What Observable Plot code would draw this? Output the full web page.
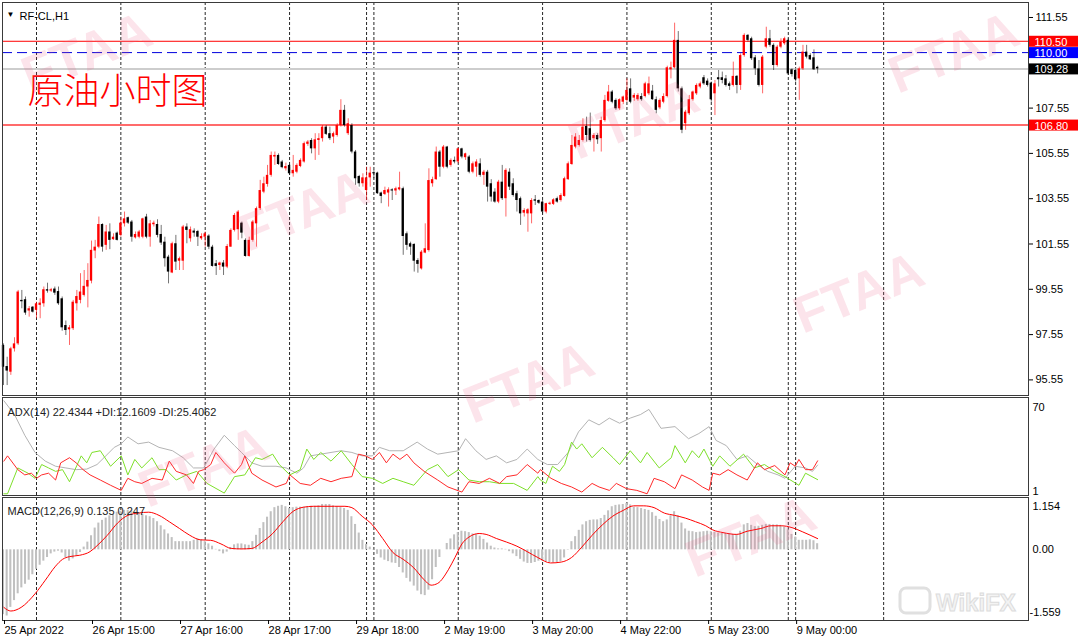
<!DOCTYPE html>
<html>
<head>
<meta charset="utf-8">
<script src="https://cdn.jsdelivr.net/npm/d3@7"></script>
<script src="https://cdn.jsdelivr.net/npm/@observablehq/plot@0.6"></script>
<style>
  html,body{margin:0;padding:0;background:#fff;}
  #chart{position:relative;width:1080px;height:638px;overflow:hidden;background:#fff;}
  #chart .panel{position:absolute;left:0;}
</style>
</head>
<body>
<div id="chart"></div>
<script>
// ---------------- DATA ----------------
const chartTitle = "RF-CL,H1";
const chartNote = "原油小时图";
const adxTitle = "ADX(14) 22.4344 +DI:12.1609 -DI:25.4062";
const macdTitle = "MACD(12,26,9) 0.135 0.247";

// hourly candles [open, high, low, close]
const candleOHLC = [
[97.07,97.14,95.30,96.11],[96.14,96.55,95.30,95.94],[95.89,96.99,95.75,96.92],[96.92,97.41,96.78,97.14],[97.14,99.50,97.07,99.43],
[99.06,99.50,98.69,99.00],[99.09,99.21,98.40,98.50],[98.59,98.79,98.32,98.69],[98.76,98.79,98.50,98.54],[98.62,98.98,98.25,98.91],
[98.84,99.13,98.25,98.94],[98.91,99.65,98.76,99.53],[99.53,99.82,99.38,99.47],[99.47,99.59,99.41,99.53],[99.56,99.65,99.28,99.38],
[99.45,99.65,98.84,98.91],[99.13,99.21,97.70,97.85],[97.95,98.15,97.51,97.73],[97.76,97.95,97.07,97.85],[97.81,99.06,97.73,98.98],
[98.91,99.50,98.59,99.23],[99.06,100.24,98.91,99.43],[99.28,100.38,99.21,99.68],[99.65,100.68,98.73,99.94],[99.91,101.68,99.79,101.27],
[101.24,101.71,100.90,101.41],[101.41,102.74,101.34,102.41],[102.41,102.44,101.19,101.41],[101.49,102.37,101.27,102.08],[102.08,102.44,101.30,101.71],
[101.74,102.00,101.71,101.85],[102.03,102.08,101.68,101.71],[101.93,102.74,101.85,102.47],[102.44,102.96,102.30,102.66],[102.71,102.74,102.41,102.47],
[102.52,102.59,101.63,101.85],[101.82,102.08,101.77,101.97],[101.85,102.15,101.78,102.08],[101.85,102.69,101.78,102.66],[102.74,102.86,101.78,101.85],
[101.85,102.59,101.41,102.44],[102.40,102.56,102.30,102.47],[102.41,102.62,101.82,101.93],[101.97,102.37,101.49,101.59],[101.63,101.85,100.53,100.90],
[100.97,101.05,99.79,100.31],[100.27,101.63,100.24,101.56],[101.56,101.93,100.38,100.75],[100.79,100.97,100.38,100.90],[100.79,102.37,100.38,102.30],
[102.30,102.44,101.56,102.15],[101.78,102.30,101.63,102.18],[102.12,102.22,101.85,102.03],[102.10,102.15,101.44,101.85],[101.78,102.00,101.71,101.88],
[101.85,102.08,101.41,102.00],[101.90,101.96,101.30,101.41],[101.41,101.49,100.53,100.56],[100.68,100.82,100.16,100.56],[100.60,100.75,100.38,100.71],
[100.71,100.82,100.16,100.53],[100.53,101.53,100.46,101.44],[101.41,102.22,101.41,102.15],[102.15,102.89,102.08,102.81],[102.18,103.03,101.71,102.96],
[102.47,102.52,101.78,102.03],[101.71,101.78,100.97,101.00],[101.00,101.85,100.97,101.71],[101.71,102.59,101.63,102.52],[102.44,103.18,101.41,103.11],
[103.11,104.36,103.03,103.91],[103.84,104.50,103.77,104.21],[104.18,105.02,104.06,104.58],[104.58,105.61,104.50,105.46],[105.39,105.61,105.02,105.46],
[105.46,105.53,105.02,105.06],[105.17,105.24,104.87,104.92],[104.87,105.12,104.77,104.97],[105.02,105.06,104.58,104.65],[104.65,105.46,104.50,104.80],
[104.72,105.09,104.65,105.02],[104.97,105.31,104.92,105.24],[105.17,106.05,105.12,105.98],[105.95,106.12,105.86,106.05],[106.12,106.20,105.53,105.75],
[105.75,106.42,105.24,106.15],[106.12,106.42,105.46,106.20],[106.20,106.78,106.05,106.71],[106.71,106.78,106.34,106.39],[106.42,106.71,106.12,106.20],
[106.27,106.49,105.98,106.42],[106.34,106.86,106.27,106.78],[106.78,107.92,106.71,107.45],[107.45,107.67,106.71,106.78],[106.42,107.08,106.34,106.86],
[106.78,106.86,105.53,105.61],[105.61,105.68,104.14,104.43],[104.53,104.58,104.06,104.21],[104.21,104.65,104.06,104.47],[103.91,104.94,103.47,104.47],
[104.47,104.94,104.06,104.68],[104.68,104.80,104.43,104.65],[104.68,104.72,103.74,103.77],[103.80,103.84,103.33,103.65],[103.74,104.06,103.69,103.91],
[103.80,104.03,103.18,103.94],[103.94,103.99,103.47,103.89],[103.89,104.06,103.69,103.99],[103.94,104.72,103.89,104.03],[103.99,104.06,101.05,101.88],
[102.00,102.08,101.27,101.49],[101.56,101.63,101.05,101.41],[101.53,101.56,100.31,100.79],[100.82,100.90,100.26,100.65],[100.45,101.26,100.40,101.19],
[101.15,102.44,101.12,101.34],[101.26,104.87,101.19,104.35],[104.21,104.50,104.06,104.39],[104.39,105.83,104.36,105.61],[105.61,105.68,104.50,104.94],
[104.94,105.90,104.87,105.83],[105.83,105.86,104.87,104.94],[105.02,105.31,104.94,105.24],[105.24,105.39,105.09,105.17],[105.17,105.78,105.09,105.75],
[105.75,105.78,105.31,105.39],[105.36,105.56,105.24,105.53],[105.39,105.46,104.65,104.72],[104.72,105.17,104.65,105.09],[104.94,105.27,104.50,105.17],
[105.09,105.31,104.50,104.58],[104.58,104.80,104.14,104.72],[104.72,104.80,103.40,104.06],[104.21,104.39,103.40,103.62],[103.84,103.99,103.35,103.40],
[103.40,104.36,103.33,104.28],[104.28,105.02,103.47,103.55],[103.55,104.87,102.74,104.80],[104.72,104.87,103.91,104.06],[104.21,104.43,103.62,103.69],
[103.77,103.88,102.96,103.47],[103.55,103.62,102.37,102.88],[102.91,103.11,102.74,103.03],[102.88,103.11,102.07,103.06],[102.88,103.55,102.44,103.47],
[103.50,103.69,103.25,103.44],[103.47,103.50,103.30,103.35],[103.40,103.47,102.88,102.96],[102.96,103.35,102.88,103.33],[103.30,103.40,103.25,103.35],
[103.30,103.55,103.25,103.50],[103.55,103.62,103.35,103.40],[103.47,103.77,103.40,103.69],[103.65,104.50,103.62,104.43],[104.39,105.17,104.36,105.09],
[105.06,106.34,105.02,105.90],[105.83,106.42,105.75,106.27],[105.90,106.34,105.83,106.12],[106.12,107.08,106.05,106.71],[106.74,107.15,106.05,106.34],
[106.64,107.33,106.05,106.12],[106.20,106.42,105.61,106.34],[106.34,106.42,105.95,106.15],[106.20,107.15,105.61,107.00],[107.00,108.11,106.93,107.89],
[107.85,108.55,107.81,108.26],[108.26,108.33,107.74,107.81],[107.89,107.96,107.45,107.52],[107.52,107.96,107.45,107.92],[107.81,108.08,107.70,108.04],
[107.89,108.84,107.81,108.33],[108.40,108.84,107.74,107.81],[107.99,108.19,107.85,108.11],[107.92,108.19,107.85,108.11],[108.06,108.19,107.85,107.92],
[108.06,108.69,108.00,108.62],[108.18,108.92,108.10,108.62],[108.30,108.55,107.89,107.92],[107.92,108.04,107.30,107.45],[107.56,107.96,107.48,107.89],
[107.81,108.18,107.74,108.06],[108.06,109.40,108.00,109.33],[109.24,109.58,108.84,109.33],[109.33,111.30,109.28,110.54],[110.54,110.93,108.26,108.40],
[108.40,108.48,106.42,106.57],[106.86,107.45,106.57,107.37],[107.30,108.11,107.22,107.92],[107.92,108.30,107.85,108.26],[108.18,108.62,108.11,108.55],
[108.48,108.70,108.40,108.62],[108.89,108.99,108.55,108.62],[108.74,108.84,108.48,108.55],[108.65,108.70,107.81,107.92],[108.18,108.77,107.22,108.62],
[108.89,109.21,108.48,108.80],[108.89,109.14,108.62,108.77],[108.84,108.99,108.48,108.55],[108.62,108.70,108.33,108.51],[108.55,109.58,108.48,108.95],
[108.95,108.99,108.18,108.55],[108.55,109.95,108.33,109.87],[109.87,110.83,109.80,110.76],[110.76,110.80,110.47,110.54],[110.61,110.68,109.65,109.73],
[109.77,109.87,108.99,109.28],[109.28,109.65,108.48,108.55],[108.55,109.87,108.18,109.80],[110.24,111.12,110.17,110.61],[110.61,110.98,110.24,110.32],
[110.32,110.39,109.21,109.43],[109.43,110.32,109.36,110.24],[110.24,110.61,110.17,110.46],[110.39,110.68,110.32,110.61],[110.54,110.61,108.99,109.06],
[109.24,109.28,108.92,109.03],[109.21,109.28,108.70,108.80],[108.84,109.36,107.89,109.28],[109.28,110.32,109.21,110.02],[110.02,110.32,109.72,109.80],
[109.87,109.95,109.65,109.68],[109.77,110.12,109.21,109.24],[109.35,109.40,109.06,109.28]
];

// price axis ticks (109.55 is hidden behind the level boxes) and horizontal levels
const priceTicks = [95.55, 97.55, 99.55, 101.55, 103.55, 105.55, 107.55, 111.55];
const levelPrices = [110.50, 110.00, 109.28, 106.80];
const levelLabels = ["110.50", "110.00", "109.28", "106.80"];

// time axis (bar index of each label) and day separators (bar index)
const tickBars = [0, 24, 48, 72, 96, 120, 144, 168, 192, 216];
const tickLabels = ["25 Apr 2022", "26 Apr 15:00", "27 Apr 16:00", "28 Apr 17:00", "29 Apr 18:00",
                    "2 May 19:00", "3 May 20:00", "4 May 22:00", "5 May 23:00", "9 May 00:00"];
const separatorBars = [9, 32, 55, 78, 99, 101, 124, 147, 170, 193, 214, 216, 240];

// ADX(14): [bar, value]
const adxLine = [[0.1,67.7],[3.0,58.0],[5.8,43.4],[8.6,31.3],[11.4,25.2],[14.2,21.6],[17.0,20.4],[19.8,19.2],[22.7,19.6],[25.5,22.8],[27.4,27.6],[30.2,34.9],[32.1,37.4],[33.9,42.2],[36.7,37.4],[39.6,38.6],[42.4,34.9],[46.1,32.5],[49.0,27.6],[51.8,20.4],[54.6,20.4],[57.4,33.7],[60.2,43.4],[63.0,36.1],[64.9,31.3],[67.7,24.0],[70.5,21.6],[74.3,21.6],[77.1,20.4],[80.0,16.7],[81.8,20.4],[83.7,28.9],[86.5,30.1],[89.3,31.3],[92.1,32.5],[95.0,31.3],[97.8,28.9],[100.6,28.9],[102.5,34.9],[105.3,32.5],[109.0,32.5],[112.8,38.6],[115.6,33.7],[118.4,30.1],[121.2,31.3],[124.1,32.5],[126.0,41.0],[128.8,32.5],[131.6,26.4],[134.4,28.9],[137.2,24.0],[140.0,26.4],[142.8,33.7],[145.7,26.4],[148.3,22.8],[151.1,22.8],[154.0,31.3],[156.8,45.8],[159.6,54.3],[162.4,50.7],[165.2,55.5],[168.0,51.9],[170.9,55.5],[173.7,58.0],[176.0,61.6],[179.3,48.3],[183.1,49.5],[186.8,41.0],[189.6,44.6],[192.4,49.5],[194.3,39.8],[197.1,36.1],[200.0,26.4],[202.8,28.9],[205.6,22.8],[208.4,18.0],[211.2,15.5],[213.1,13.1],[215.9,21.6],[218.7,20.4],[220.6,18.0],[222,22.43]];
const plusDI = [[0.1,2.2],[1.1,2.2],[3.9,20.4],[6.7,16.7],[8.6,13.1],[10.4,22.8],[12.3,20.4],[14.2,18.0],[16.1,19.2],[18.0,10.7],[21.2,28.9],[22.7,24.0],[24.1,31.3],[26.4,32.5],[29.2,21.6],[32.1,28.9],[33.9,15.5],[35.8,26.4],[37.7,20.4],[40.5,27.6],[42.4,19.2],[44.3,19.2],[47.1,11.9],[49.9,15.5],[52.7,18.0],[55.5,9.5],[60.2,2.7],[63.0,14.3],[65.8,15.5],[68.7,27.6],[70.5,26.4],[73.4,30.1],[75.2,22.8],[78.1,15.5],[80.9,19.2],[82.7,33.7],[84.6,26.4],[86.5,31.3],[89.3,25.2],[92.1,32.5],[95.0,22.8],[97.8,14.3],[100.6,13.1],[103.4,9.5],[106.2,13.1],[109.0,10.7],[111.9,8.2],[115.6,19.2],[118.4,22.8],[121.2,14.3],[124.1,19.2],[126.9,11.9],[129.7,10.7],[132.5,10.7],[135.3,9.5],[139.1,9.5],[142.8,4.6],[145.7,14.3],[146.4,11.9],[147.9,9.5],[149.7,21.6],[151.6,18.0],[153.0,22.8],[154.9,38.6],[156.3,33.7],[157.7,37.4],[160.5,27.6],[163.3,34.9],[166.2,27.6],[168.0,22.8],[170.9,32.5],[173.7,24.0],[175.5,31.3],[178.8,20.4],[182.1,27.6],[183.1,36.1],[185.9,24.0],[187.8,32.5],[189.6,27.6],[191.0,33.7],[193.4,21.6],[195.3,28.9],[198.1,21.6],[201.8,30.1],[204.7,20.4],[207.5,22.8],[210.3,18.0],[213.1,14.3],[216.9,8.2],[218.7,16.7],[222,12.16]];
const minusDI = [[0.1,25.2],[1.1,28.9],[3.9,19.2],[5.8,15.5],[7.6,16.7],[9.0,13.1],[10.4,15.5],[12.3,16.7],[14.2,11.9],[15.6,24.0],[18.0,27.6],[19.8,24.0],[21.7,19.2],[23.6,15.5],[26.4,11.9],[29.2,8.2],[32.1,4.6],[33.9,13.1],[35.8,10.7],[37.7,9.5],[40.5,13.1],[43.3,11.9],[45.2,25.2],[47.1,18.0],[49.9,15.5],[51.8,9.5],[53.2,18.0],[54.6,19.2],[56.5,22.8],[57.9,31.3],[60.2,24.0],[63.0,16.7],[64.9,22.8],[65.8,28.9],[67.7,16.7],[70.5,11.9],[74.3,7.0],[77.1,9.5],[78.1,15.5],[80.9,9.5],[83.7,8.2],[86.5,13.1],[89.3,10.7],[92.1,13.1],[95.0,14.3],[96.8,30.1],[98.7,28.9],[100.6,26.4],[102.5,31.3],[104.4,24.0],[106.2,30.1],[108.1,26.4],[110.0,30.1],[111.9,24.0],[114.7,18.0],[118.4,11.9],[121.2,7.0],[125.0,3.4],[126.9,10.7],[129.7,9.5],[132.5,13.1],[135.3,9.5],[137.2,14.3],[140.0,15.5],[142.8,22.8],[145.7,16.7],[146.4,19.2],[149.3,13.1],[152.1,9.5],[154.9,7.0],[157.7,3.4],[160.5,9.5],[162.4,7.0],[165.2,4.6],[167.1,9.5],[169.9,5.8],[172.7,4.6],[175.5,2.2],[177.4,13.1],[180.2,10.7],[183.1,5.8],[184.9,15.5],[187.8,11.9],[190.6,7.0],[192.4,4.6],[193.4,16.7],[195.3,15.5],[197.6,19.2],[200.0,15.5],[202.8,11.9],[205.6,24.0],[207.5,19.2],[210.3,22.1],[213.1,15.5],[214.5,24.0],[215.9,21.6],[216.9,26.4],[218.7,19.2],[220.6,19.2],[222,25.41]];

// MACD(12,26,9): main line per bar (histogram) and signal line [bar, value]
const macdMain = [
-1.43,-1.46,-1.27,-1.12,-0.97,-0.84,-0.76,-0.67,-0.55,-0.43,
-0.34,-0.25,-0.17,-0.09,-0.05,-0.03,-0.07,-0.17,-0.25,-0.20,
-0.13,-0.06,0.06,0.17,0.31,0.48,0.59,0.65,0.70,0.75,
0.78,0.83,0.85,0.87,0.87,0.85,0.83,0.81,0.78,0.75,
0.73,0.69,0.62,0.53,0.44,0.35,0.27,0.18,0.18,0.18,
0.18,0.18,0.21,0.24,0.22,0.18,0.13,0.08,0.01,-0.04,
-0.09,-0.05,0.05,0.11,0.13,0.13,0.11,0.10,0.18,0.32,
0.47,0.60,0.72,0.84,0.93,0.96,0.98,0.95,0.91,0.93,
0.94,0.94,0.94,0.95,0.96,0.96,0.97,1.00,1.00,1.00,
0.97,0.95,0.93,0.91,0.87,0.73,0.56,0.37,0.21,0.12,
0.06,-0.01,-0.10,-0.18,-0.23,-0.26,-0.29,-0.30,-0.39,-0.51,
-0.63,-0.71,-0.80,-0.91,-0.99,-1.01,-0.89,-0.66,-0.39,-0.17,
0.00,0.14,0.24,0.33,0.38,0.41,0.40,0.38,0.35,0.34,
0.30,0.23,0.15,0.08,0.04,0.02,0.02,0.01,-0.04,-0.09,
-0.15,-0.21,-0.27,-0.30,-0.30,-0.28,-0.25,-0.25,-0.26,-0.28,
-0.29,-0.28,-0.26,-0.18,-0.01,0.18,0.29,0.43,0.55,0.62,
0.65,0.66,0.66,0.69,0.76,0.86,0.95,0.98,0.99,1.00,
1.02,0.99,0.94,0.93,0.91,0.89,0.87,0.82,0.74,0.67,
0.62,0.66,0.75,0.84,0.75,0.59,0.46,0.41,0.40,0.38,
0.39,0.40,0.41,0.40,0.39,0.37,0.36,0.36,0.36,0.34,
0.34,0.41,0.55,0.58,0.54,0.51,0.52,0.54,0.56,0.56,
0.55,0.55,0.54,0.50,0.44,0.34,0.28,0.21,0.21,0.21,
0.22,0.20,0.135];
const macdSignal = [[0.1,-1.27],[2.0,-1.35],[4.8,-1.27],[8.6,-0.97],[11.4,-0.67],[14.2,-0.36],[16.1,-0.21],[18.0,-0.15],[20.8,-0.12],[23.6,-0.04],[25.5,0.09],[28.3,0.32],[31.1,0.59],[33.9,0.76],[36.7,0.81],[39.6,0.83],[42.4,0.76],[45.2,0.62],[48.0,0.47],[50.8,0.32],[53.7,0.22],[56.5,0.21],[59.3,0.13],[62.1,0.03],[64.9,0.02],[67.7,0.03],[70.5,0.17],[73.4,0.36],[76.2,0.62],[79.0,0.85],[81.8,0.94],[84.6,0.96],[87.4,0.96],[90.3,0.96],[93.1,0.96],[95.0,0.93],[97.8,0.74],[100.6,0.55],[103.4,0.25],[106.2,-0.06],[109.0,-0.21],[111.9,-0.40],[114.7,-0.66],[116.6,-0.78],[118.4,-0.74],[121.3,-0.44],[123.1,-0.17],[125.0,0.13],[126.9,0.28],[129.7,0.36],[131.6,0.34],[134.4,0.25],[137.2,0.17],[140.0,0.08],[142.8,-0.04],[145.7,-0.17],[149.2,-0.29],[152.1,-0.27],[154.9,-0.17],[157.7,0.06],[160.5,0.32],[163.3,0.55],[166.1,0.74],[169.0,0.87],[171.8,0.97],[174.6,0.97],[177.4,0.93],[180.2,0.81],[183.0,0.76],[185.9,0.70],[188.7,0.62],[191.5,0.53],[193.4,0.44],[196.2,0.38],[199.9,0.34],[202.8,0.41],[206.5,0.47],[209.3,0.53],[212.1,0.53],[215.0,0.49],[217.8,0.40],[222,0.247]];
const adxScale = [1, 70];
const macdScale = [-1.559, 0, 1.154];

// ---------------- RENDER ----------------
const FONT = '"Liberation Sans", Arial, sans-serif';
const W = 1080;
const XD = [-0.273, 279.5];           // bar-index domain of the plotting area
const chart = document.getElementById("chart");
const baseStyle = {fontFamily: FONT, fontSize: "11px", color: "#000", background: "transparent", overflow: "visible"};

const bars = candleOHLC.map(([o, h, l, c], i) => {
  const lo = Math.min(o, c);
  return {i, o, h, l, c, up: c >= o, lo, hi: Math.max(o, c, lo + 0.045)};
});
const bull = bars.filter(d => d.up), bear = bars.filter(d => !d.up);
const sep = () => Plot.ruleX(separatorBars, {stroke: "#000", strokeOpacity: 0.85, strokeDasharray: "3,2"});
const frame = () => Plot.frame({stroke: "#3a3a3a"});
const boxFill = ["#ff0000", "#0000ff", "#000000", "#ff0000"];
const lineStyle = [
  {stroke: "#ff0000", strokeWidth: 1},
  {stroke: "#0000dd", strokeWidth: 1, strokeDasharray: "10,5"},
  {stroke: "#cdcdcd", strokeWidth: 2},
  {stroke: "#ff6b6b", strokeWidth: 2}
];

function place(svg, top) {
  svg.classList.add("panel");
  svg.style.top = top + "px";
  chart.appendChild(svg);
}

// main price panel
const mainPlot = Plot.plot({
  width: W, height: 397, marginTop: 2, marginBottom: 2, marginLeft: 2, marginRight: 52,
  x: {domain: XD, axis: null},
  y: {domain: [94.861, 112.212]},
  style: baseStyle,
  marks: [
    sep(),
    ...[3, 2, 1, 0].map(k => Plot.ruleY([levelPrices[k]], lineStyle[k])),
    Plot.ruleX(bull, {x: "i", y1: "l", y2: "h", stroke: "#ff0000", strokeOpacity: 0.6}),
    Plot.ruleX(bear, {x: "i", y1: "l", y2: "h", stroke: "#000", strokeOpacity: 0.55}),
    Plot.rect(bull, {x1: d => d.i - 0.32, x2: d => d.i + 0.32, y1: "lo", y2: "hi", fill: "#ff0000"}),
    Plot.rect(bear, {x1: d => d.i - 0.32, x2: d => d.i + 0.32, y1: "lo", y2: "hi", fill: "#000"}),
    frame(),
    Plot.axisY(priceTicks, {anchor: "right", tickSize: 4, tickPadding: 3, tickFormat: d => d.toFixed(2), fontSize: 11}),
    ...levelPrices.map((p, k) => Plot.rect([p], {
      x1: () => XD[1], x2: () => XD[1], y1: d => d, y2: d => d,
      insetLeft: 1, insetRight: -50, insetTop: -5, insetBottom: -6, fill: boxFill[k]
    })),
    ...levelPrices.map((p, k) => Plot.text([p], {
      y: d => d, frameAnchor: "right", dx: 6, dy: 1, textAnchor: "start",
      text: () => levelLabels[k], fill: "#fff", fontSize: 11
    })),
    Plot.text(["▼"], {frameAnchor: "top-left", dx: 4, dy: 9, textAnchor: "start", fontSize: 8}),
    Plot.text([chartTitle], {frameAnchor: "top-left", dx: 17, dy: 10, textAnchor: "start", fontSize: 11}),
    Plot.text([chartNote], {frameAnchor: "top-left", dx: 25, dy: 76, textAnchor: "start", fontSize: 36,
      fill: "#ff0000", fontWeight: 300, fontFamily: '"Noto Sans CJK SC", sans-serif'})
  ]
});
place(mainPlot, 0);

// ADX panel
const adxPlot = Plot.plot({
  width: W, height: 100, marginTop: 1, marginBottom: 1, marginLeft: 2, marginRight: 52,
  x: {domain: XD, axis: null},
  y: {domain: adxScale, axis: null},
  style: baseStyle,
  marks: [
    sep(),
    Plot.line(adxLine, {x: d => d[0], y: d => d[1], stroke: "#b4b4b4", strokeWidth: 1}),
    Plot.line(plusDI, {x: d => d[0], y: d => d[1], stroke: "#7ee02a", strokeWidth: 1}),
    Plot.line(minusDI, {x: d => d[0], y: d => d[1], stroke: "#ff2a2a", strokeWidth: 1}),
    frame(),
    Plot.text([adxTitle], {frameAnchor: "top-left", dx: 5, dy: 11, textAnchor: "start", fontSize: 11, fill: "#222"}),
    Plot.text([adxScale[1]], {y: d => d, frameAnchor: "right", dx: 4, dy: 9.5, textAnchor: "start", text: d => String(d), fontSize: 11}),
    Plot.text([adxScale[0]], {y: d => d, frameAnchor: "right", dx: 4, dy: -4.5, textAnchor: "start", text: d => String(d), fontSize: 11})
  ]
});
place(adxPlot, 396);

// MACD panel
const hist = macdMain.map((v, i) => ({i, v}));
const macdPlot = Plot.plot({
  width: W, height: 143, marginTop: 2, marginBottom: 18, marginLeft: 2, marginRight: 52,
  x: {domain: XD},
  y: {domain: [macdScale[0], macdScale[2]], axis: null},
  style: baseStyle,
  marks: [
    sep(),
    Plot.rect(hist, {x1: d => d.i - 0.28, x2: d => d.i + 0.28, y1: 0, y2: "v", fill: "#c0c0c0"}),
    Plot.line(macdSignal, {x: d => d[0], y: d => d[1], stroke: "#ff0000", strokeWidth: 1, curve: "monotone-x"}),
    frame(),
    Plot.axisX(tickBars, {anchor: "bottom", tickSize: 4, tickPadding: 2, textAnchor: "start", dx: 1,
      tickFormat: d => tickLabels[tickBars.indexOf(d)], fontSize: 11}),
    Plot.text([macdTitle], {frameAnchor: "top-left", dx: 5, dy: 10, textAnchor: "start", fontSize: 11, fill: "#222"}),
    Plot.text([macdScale[2]], {y: d => d, frameAnchor: "right", dx: 4, dy: 8.5, textAnchor: "start", text: d => d.toFixed(3), fontSize: 11}),
    Plot.text([macdScale[1]], {y: d => d, frameAnchor: "right", dx: 4, dy: 0, textAnchor: "start", text: d => d.toFixed(2), fontSize: 11}),
    Plot.text([macdScale[0]], {y: d => d, frameAnchor: "right", dx: 1, dy: -8, textAnchor: "start", text: d => d.toFixed(3), fontSize: 11})
  ]
});
place(macdPlot, 495);

// ---------------- DECOR (watermarks) ----------------
const decor = d3.select(chart).append("svg")
  .attr("class", "panel").attr("width", W).attr("height", 638)
  .style("top", "0px").style("pointer-events", "none");
const wmSpots = [[88,56],[305,214],[635,122],[955,56],[530,386],[860,296],[205,470],[752,540]];
wmSpots.forEach(([x, y]) => {
  decor.append("text")
    .attr("transform", `translate(${x},${y}) rotate(-22)`)
    .attr("text-anchor", "middle").attr("dominant-baseline", "middle")
    .attr("font-family", FONT).attr("font-weight", "bold").attr("font-size", 52)
    .attr("fill", "#ee5f86").attr("fill-opacity", 0.17)
    .text("FTAA");
});
decor.append("rect")
  .attr("x", 900).attr("y", 588).attr("width", 30).attr("height", 25).attr("rx", 6)
  .attr("fill", "none").attr("stroke", "#e0e0e0").attr("stroke-width", 3);
decor.append("text")
  .attr("x", 936).attr("y", 611)
  .attr("font-family", FONT).attr("font-weight", "bold").attr("font-size", 24)
  .attr("fill", "#f3f3f3").attr("stroke", "#dcdcdc").attr("stroke-width", 1)
  .text("WikiFX");
</script>
</body>
</html>
